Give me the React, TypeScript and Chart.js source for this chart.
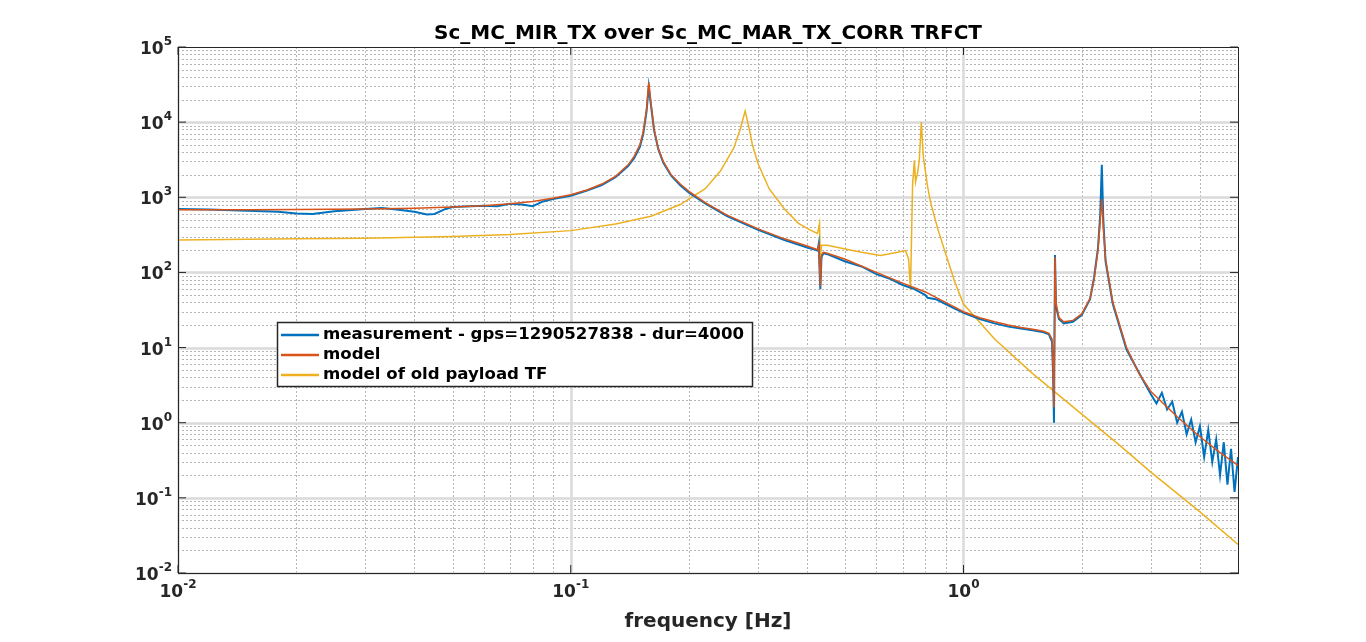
import React, { useEffect, useRef } from "react";
import { Chart, registerables } from "chart.js";
Chart.register(...registerables);

const TITLE = "Sc_MC_MIR_TX over Sc_MC_MAR_TX_CORR TRFCT";
const XLABEL = "frequency [Hz]";
const LABELS = ["measurement - gps=1290527838 - dur=4000", "model", "model of old payload TF"];
const COLORS = ["#0072BD", "#D95319", "#EDB120"];

const modelF = [0.01,0.015,0.02,0.03,0.04,0.05,0.06,0.07,0.08,0.09,0.1,0.11,0.12,0.13,0.14,0.145,0.15,0.153,0.156,0.158,0.16,0.163,0.167,0.172,0.18,0.19,0.2,0.22,0.25,0.3,0.35,0.4,0.42,0.425,0.428,0.43,0.432,0.435,0.44,0.45,0.5,0.6,0.7,0.8,0.9,1.0,1.1,1.2,1.3,1.4,1.5,1.6,1.65,1.68,1.69,1.70,1.71,1.72,1.75,1.8,1.9,2.0,2.1,2.15,2.2,2.23,2.25,2.27,2.3,2.4,2.6,2.8,3.0,3.5,4.0,4.5,5.0];
const modelV = [680,685,690,700,715,740,770,820,880,970,1080,1250,1500,1900,2700,3500,5000,7500,15000,34000,18000,8000,4500,3000,2000,1500,1200,850,580,380,280,225,205,200,230,130,65,170,185,180,150,100,72,55,40,30,25,22,20,18.5,17.5,16.5,15.5,13,6,1.6,160,40,25,22,23,28,45,80,200,500,950,400,150,40,10,4.5,2.6,1.2,0.65,0.4,0.27];

const measF = [0.01,0.012,0.015,0.018,0.02,0.022,0.025,0.03,0.033,0.036,0.04,0.043,0.045,0.048,0.05,0.06,0.065,0.07,0.075,0.08,0.085,0.09,0.1,0.11,0.12,0.13,0.14,0.145,0.15,0.153,0.156,0.158,0.16,0.163,0.167,0.172,0.18,0.19,0.2,0.22,0.25,0.3,0.35,0.4,0.42,0.425,0.428,0.43,0.432,0.435,0.44,0.45,0.5,0.55,0.6,0.65,0.7,0.75,0.8,0.81,0.85,0.9,1.0,1.1,1.2,1.3,1.4,1.5,1.6,1.65,1.68,1.69,1.70,1.71,1.72,1.75,1.8,1.9,2.0,2.1,2.15,2.2,2.23,2.25,2.27,2.3,2.4,2.6,2.8,3.0,3.1,3.2,3.3,3.4,3.5,3.6,3.7,3.8,3.9,4.0,4.1,4.2,4.3,4.4,4.5,4.6,4.7,4.8,4.9,5.0];
const measV = [700,690,660,640,610,600,650,700,720,690,640,590,600,700,740,770,760,820,800,760,880,950,1050,1230,1450,1850,2600,3300,4700,7000,14000,30000,17000,7800,4400,2900,1950,1450,1150,830,560,370,270,215,200,195,240,110,60,160,180,175,140,120,95,82,68,60,50,46,44,38,29,24,21,19,18,17,16,15,12,5,1.0,170,35,24,21,22,27,44,85,210,600,2700,500,140,38,9.5,4.6,2.4,1.8,2.5,1.5,1.9,1.0,1.4,0.7,1.1,0.55,0.9,0.35,0.8,0.3,0.6,0.2,0.55,0.15,0.45,0.12,0.35];

const oldF = [0.01,0.02,0.03,0.05,0.07,0.1,0.13,0.16,0.19,0.22,0.24,0.26,0.27,0.278,0.285,0.29,0.3,0.32,0.35,0.38,0.41,0.425,0.43,0.432,0.435,0.45,0.5,0.55,0.615,0.68,0.712,0.725,0.733,0.742,0.75,0.755,0.765,0.772,0.781,0.79,0.81,0.825,0.86,0.9,0.95,1.0,1.2,1.5,2.0,2.5,3.0,4.0,5.0];
const oldV = [270,280,285,300,320,360,440,560,800,1300,2200,4500,8000,14000,8000,5000,2800,1300,700,450,360,330,450,150,230,230,205,185,168,185,195,150,58,1500,3100,1600,2200,3200,10000,3500,1400,850,380,180,75,38,13,4.5,1.3,0.5,0.22,0.065,0.024];

const pts = (f: number[], v: number[]) => f.map((x, i) => ({ x, y: v[i] }));
const FONT = "DejaVu Sans";

const plugin = {
  id: "matlab",
  beforeDatasetsDraw(chart: any) {
    const { ctx, chartArea: a, scales } = chart;
    ctx.save();
    const sx = scales.x, sy = scales.y;
    for (let pass = 0; pass < 2; pass++) {
      for (let e = -2; e <= 4; e++) {
        for (let m = 1; m <= 9; m++) {
          const major = m === 1;
          if ((pass === 0) !== !major) continue;
          const v = m * Math.pow(10, e);
          ctx.strokeStyle = major ? "#dadada" : "#b4b4b4";
          ctx.lineWidth = major ? 2.5 : 1;
          ctx.setLineDash(major ? [] : [2, 2]);
          if (v >= 0.01 && v <= 5) {
            const px = Math.round(sx.getPixelForValue(v)) + 0.5;
            ctx.beginPath(); ctx.moveTo(px, a.top); ctx.lineTo(px, a.bottom); ctx.stroke();
          }
          if (v <= 1e5) {
            const py = Math.round(sy.getPixelForValue(v)) + 0.5;
            ctx.beginPath(); ctx.moveTo(a.left, py); ctx.lineTo(a.right, py); ctx.stroke();
          }
        }
      }
    }
    ctx.restore();
  },
  afterDatasetsDraw(chart: any) {
    const { ctx, chartArea: a, scales } = chart;
    const sx = scales.x, sy = scales.y;
    ctx.save();
    ctx.setLineDash([]);
    ctx.strokeStyle = "#262626";
    ctx.lineWidth = 1;
    ctx.strokeRect(a.left + 0.5, a.top + 0.5, a.right - a.left, a.bottom - a.top);
    ctx.fillStyle = "#262626";
    const sup = (x: number, y: number, e: number, align: string) => {
      ctx.font = `bold 17px "${FONT}"`;
      const bw = ctx.measureText("10").width;
      ctx.font = `bold 12px "${FONT}"`;
      const es = String(e);
      const ew = ctx.measureText(es).width;
      const total = bw + ew;
      let x0 = align === "right" ? x - total : x - total / 2;
      ctx.textAlign = "left"; ctx.textBaseline = "alphabetic";
      ctx.font = `bold 17px "${FONT}"`;
      ctx.fillText("10", x0, y);
      ctx.font = `bold 12px "${FONT}"`;
      ctx.fillText(es, x0 + bw, y - 9);
    };
    for (let e = -2; e <= 0; e++) {
      const px = sx.getPixelForValue(Math.pow(10, e));
      ctx.beginPath(); ctx.moveTo(px, a.bottom); ctx.lineTo(px, a.bottom - 8); ctx.moveTo(px, a.top); ctx.lineTo(px, a.top + 8); ctx.stroke();
      sup(px, a.bottom + 24, e, "center");
    }
    for (let e = -2; e <= 5; e++) {
      const py = sy.getPixelForValue(Math.pow(10, e));
      ctx.beginPath(); ctx.moveTo(a.left, py); ctx.lineTo(a.left + 8, py); ctx.moveTo(a.right, py); ctx.lineTo(a.right - 8, py); ctx.stroke();
      sup(a.left - 6, py + 7, e, "right");
    }
    ctx.textAlign = "center";
    ctx.font = `bold 20px "${FONT}"`;
    ctx.fillStyle = "#000";
    ctx.fillText(TITLE, (a.left + a.right) / 2, a.top - 8);
    ctx.fillStyle = "#262626";
    ctx.fillText(XLABEL, (a.left + a.right) / 2, 627);
    const lx = 277, ly = 322, lw = 475, lh = 64;
    ctx.fillStyle = "#fff";
    ctx.fillRect(lx, ly, lw, lh);
    ctx.strokeStyle = "#262626";
    ctx.lineWidth = 1.5;
    ctx.strokeRect(lx + 0.5, ly + 0.5, lw, lh);
    ctx.textAlign = "left"; ctx.textBaseline = "middle";
    ctx.font = `bold 16.6px "${FONT}"`;
    LABELS.forEach((t, i) => {
      const y = ly + 13 + i * 20;
      ctx.strokeStyle = COLORS[i]; ctx.lineWidth = 2.5;
      ctx.beginPath(); ctx.moveTo(lx + 4, y); ctx.lineTo(lx + 42, y); ctx.stroke();
      ctx.fillStyle = "#000";
      ctx.fillText(t, lx + 46, y);
    });
    ctx.restore();
  },
};

export default function App() {
  const ref = useRef<HTMLCanvasElement>(null);
  useEffect(() => {
    document.body.style.margin = "0";
    const chart = new Chart(ref.current!, {
      type: "line",
      data: {
        datasets: [
          { label: LABELS[2], data: pts(oldF, oldV), borderColor: COLORS[2], borderWidth: 1.5, pointRadius: 0, order: 3 },
          { label: LABELS[0], data: pts(measF, measV), borderColor: COLORS[0], borderWidth: 2, pointRadius: 0, order: 2 },
          { label: LABELS[1], data: pts(modelF, modelV), borderColor: COLORS[1], borderWidth: 1.5, pointRadius: 0, order: 1 },
        ],
      },
      options: {
        animation: false,
        responsive: false,
        parsing: false as any,
        layout: { padding: { top: 47, right: 128, left: 0, bottom: 0 } },
        plugins: { legend: { display: false }, tooltip: { enabled: false } },
        scales: {
          x: {
            type: "logarithmic", min: 0.01, max: 5,
            ticks: { display: false }, grid: { display: false }, border: { display: false },
            afterFit: (s: any) => { s.height = 69; },
          },
          y: {
            type: "logarithmic", min: 0.01, max: 1e5,
            ticks: { display: false }, grid: { display: false }, border: { display: false },
            afterFit: (s: any) => { s.width = 178; },
          },
        },
      },
      plugins: [plugin],
    });
    return () => chart.destroy();
  }, []);
  return (
    <div style={{ width: 1366, height: 642, background: "#fff" }}>
      <canvas ref={ref} width={1366} height={642} />
    </div>
  );
}
